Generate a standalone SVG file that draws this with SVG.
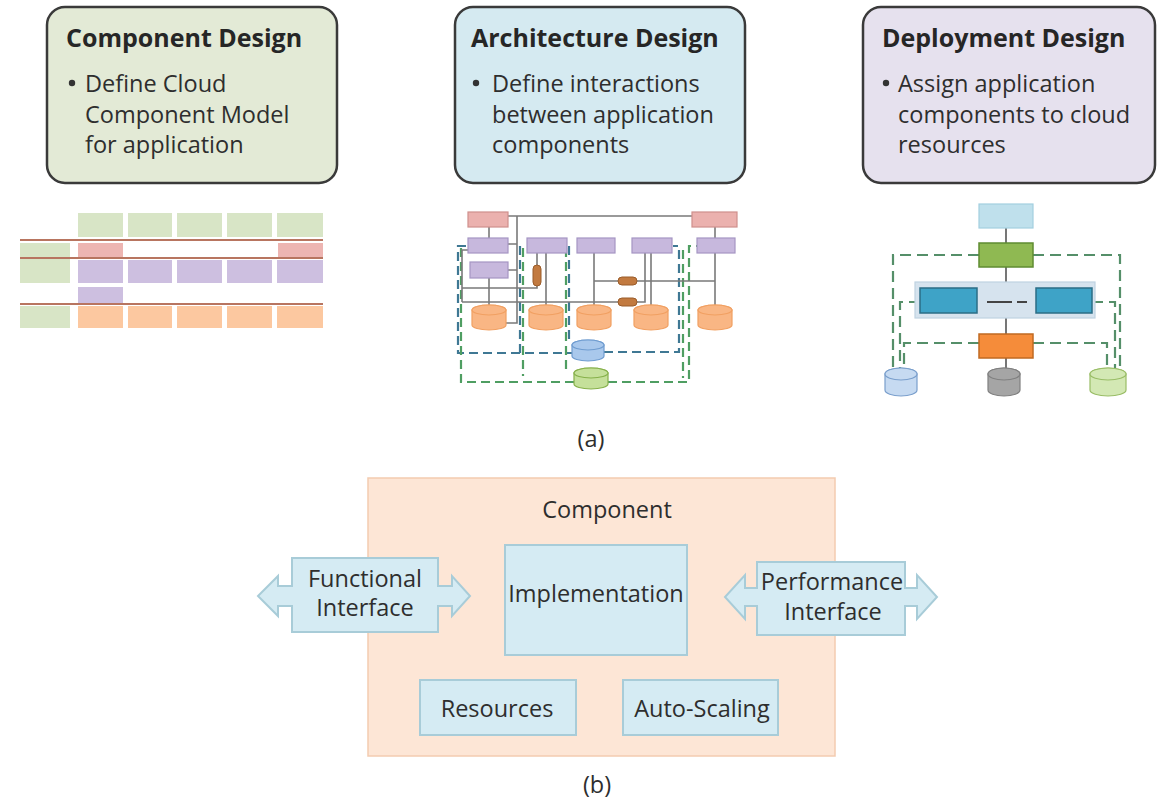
<svg xmlns="http://www.w3.org/2000/svg" width="1163" height="801" viewBox="0 0 1163 801">
<style>
.h{font-family:"Open Sans","Liberation Sans",sans-serif;font-weight:bold;font-size:25px;fill:#262626}
.t{font-family:"Open Sans","Liberation Sans",sans-serif;font-size:23.5px;fill:#2e2e2e}
.c{text-anchor:middle}
.card{stroke:#3a3a3a;stroke-width:2.5}
.g{fill:#d8e5c6}.pk{fill:#edb5b2}.pu{fill:#cdbfe0}.or{fill:#fcc8a0}
.rl{stroke:#b87560;stroke-width:1.8;fill:none}
.ln{stroke:#7a7a7a;stroke-width:1.6;fill:none}
.aP{fill:#ebb1ae;stroke:#cf8f8c;stroke-width:1.2}
.aU{fill:#c7b8dd;stroke:#a595c3;stroke-width:1.2}
.aO{fill:#f9b684;stroke:#f1a062;stroke-width:1.2}
.pill{fill:#c27a40;stroke:#9a5c2a;stroke-width:1}
.dT{stroke:#3f7894;stroke-width:2.2;stroke-dasharray:9 5;fill:none}
.dG{stroke:#4f9e62;stroke-width:2.2;stroke-dasharray:9 5;fill:none}
.dD{stroke:#558f69;stroke-width:2.2;stroke-dasharray:11 6;fill:none}
.dl{stroke:#555;stroke-width:1.6;fill:none}
.blu{fill:#d5ebf3;stroke:#a8ccd8;stroke-width:2}
</style>

<g id="component-design">
<rect x="47" y="7" width="290" height="176" rx="18" fill="#e3ead6" class="card"/>
<text class="h" x="66" y="47">Component Design</text>
<circle cx="72" cy="83" r="3.2" fill="#333"/>
<text class="t" x="85" y="92">Define Cloud</text>
<text class="t" x="85" y="123">Component Model</text>
<text class="t" x="85" y="153">for application</text>
</g>

<g id="architecture-design">
<rect x="455" y="7" width="290" height="176" rx="18" fill="#d5eaf1" class="card"/>
<text class="h" x="471" y="47">Architecture Design</text>
<circle cx="476" cy="83" r="3.2" fill="#333"/>
<text class="t" x="492" y="92">Define interactions</text>
<text class="t" x="492" y="123">between application</text>
<text class="t" x="492" y="153">components</text>
</g>

<g id="deployment-design">
<rect x="863" y="7" width="292" height="176" rx="18" fill="#e6e1ee" class="card"/>
<text class="h" x="882" y="47">Deployment Design</text>
<circle cx="886" cy="83" r="3.2" fill="#333"/>
<text class="t" x="898" y="92">Assign application</text>
<text class="t" x="898" y="123">components to cloud</text>
<text class="t" x="898" y="153">resources</text>
</g>

<g id="component-sketch">
<rect class="g" x="78" y="213" width="45" height="24"/>
<rect class="g" x="128" y="213" width="44" height="24"/>
<rect class="g" x="177" y="213" width="45" height="24"/>
<rect class="g" x="227" y="213" width="45" height="24"/>
<rect class="g" x="277" y="213" width="46" height="24"/>
<rect class="g" x="20" y="243" width="50" height="40"/>
<rect class="pk" x="78" y="243" width="45" height="15"/>
<rect class="pk" x="278" y="243" width="45" height="15"/>
<rect class="pu" x="78" y="260" width="45" height="23"/>
<rect class="pu" x="128" y="260" width="44" height="23"/>
<rect class="pu" x="177" y="260" width="45" height="23"/>
<rect class="pu" x="227" y="260" width="45" height="23"/>
<rect class="pu" x="277" y="260" width="46" height="23"/>
<rect class="pu" x="78" y="287" width="45" height="16"/>
<rect class="g" x="20" y="306" width="50" height="22"/>
<rect class="or" x="78" y="306" width="45" height="22"/>
<rect class="or" x="128" y="306" width="44" height="22"/>
<rect class="or" x="177" y="306" width="45" height="22"/>
<rect class="or" x="227" y="306" width="45" height="22"/>
<rect class="or" x="277" y="306" width="46" height="22"/>
<path class="rl" d="M20,240 H323 M20,258 H323 M20,304 H323"/>
</g>

<g id="architecture-sketch">
<path class="dT" d="M466,246 H458 V353 H572 M520,246 V353 M569,246 V342 M604,352 H679 V246 H673"/>
<path class="dG" d="M461,248 V382 H574 M608,382 H689 V246 H697 M523,248 V376 M566,248 V372 M683,250 V378"/>
<path class="ln" d="M508,216 H692 M517,216 V323 H506 M489,227 V238 M715,227 V238 M508,244 H517 M508,270 H517 M489,278 V305 M468,250 H462 V302 M537,253 V265 M537,286 V288 H462 M462,302 H618 M637,302 H645 V253 M546,253 V305 M594,253 V305 M594,281 H618 M637,281 H715 M651,253 V305 M715,253 V305"/>
<rect class="aP" x="468" y="212" width="40" height="15"/>
<rect class="aP" x="692" y="212" width="45" height="15"/>
<rect class="aU" x="468" y="238" width="40" height="15"/>
<rect class="aU" x="527" y="238" width="40" height="15"/>
<rect class="aU" x="577" y="238" width="38" height="15"/>
<rect class="aU" x="632" y="238" width="40" height="15"/>
<rect class="aU" x="697" y="238" width="38" height="15"/>
<rect class="aU" x="470" y="262" width="38" height="16"/>
<rect class="pill" x="533" y="265" width="8" height="21" rx="4"/>
<rect class="pill" x="618" y="277" width="19" height="8" rx="4"/>
<rect class="pill" x="618" y="298" width="19" height="8" rx="4"/>
<path class="aO" d="M472,310 V325 A17,5 0 0 0 506,325 V310 A17,5 0 0 0 472,310 Z"/><ellipse class="aO" cx="489" cy="310" rx="17" ry="5"/>
<path class="aO" d="M529,310 V325 A17,5 0 0 0 563,325 V310 A17,5 0 0 0 529,310 Z"/><ellipse class="aO" cx="546" cy="310" rx="17" ry="5"/>
<path class="aO" d="M577,310 V325 A17,5 0 0 0 611,325 V310 A17,5 0 0 0 577,310 Z"/><ellipse class="aO" cx="594" cy="310" rx="17" ry="5"/>
<path class="aO" d="M634,310 V325 A17,5 0 0 0 668,325 V310 A17,5 0 0 0 634,310 Z"/><ellipse class="aO" cx="651" cy="310" rx="17" ry="5"/>
<path class="aO" d="M698,310 V325 A17,5 0 0 0 732,325 V310 A17,5 0 0 0 698,310 Z"/><ellipse class="aO" cx="715" cy="310" rx="17" ry="5"/>
<path d="M572,345 V356 A16,5 0 0 0 604,356 V345 A16,5 0 0 0 572,345 Z" fill="#a9c8ec" stroke="#6f9cd0" stroke-width="1.2"/>
<ellipse cx="588" cy="345" rx="16" ry="5" fill="#a9c8ec" stroke="#6f9cd0" stroke-width="1.2"/>
<path d="M574,373 V384 A17,5 0 0 0 608,384 V373 A17,5 0 0 0 574,373 Z" fill="#c5e09a" stroke="#86b04a" stroke-width="1.2"/>
<ellipse cx="591" cy="373" rx="17" ry="5" fill="#c5e09a" stroke="#86b04a" stroke-width="1.2"/>
</g>

<g id="deployment-sketch">
<path class="dD" d="M979,255 H893 V368 M1033,255 H1120 V368 M920,302 H900 V368 M1092,302 H1115 V368 M979,343 H904 V368 M1033,343 H1107 V368"/>
<path class="dl" d="M1006,228 V243 M1006,267 V283 M1006,318 V334 M1006,358 V376"/>
<rect x="979" y="204" width="54" height="24" fill="#bfe0ec" stroke="#a3cfe0" stroke-width="1.2"/>
<rect x="979" y="243" width="54" height="24" fill="#8fb952" stroke="#5f8c32" stroke-width="1.5"/>
<rect x="915" y="282" width="180" height="36" fill="#d6e3ee" stroke="#bfd2e2" stroke-width="1.2"/>
<rect x="920" y="288" width="57" height="25" fill="#3ea3c7" stroke="#2b6e86" stroke-width="1.5"/>
<rect x="1036" y="288" width="56" height="25" fill="#3ea3c7" stroke="#2b6e86" stroke-width="1.5"/>
<path d="M987,302 H1012 M1017,302 H1027" stroke="#444" stroke-width="2.2"/>
<rect x="979" y="334" width="54" height="24" fill="#f58c3a" stroke="#c06a22" stroke-width="1.5"/>
<path d="M885,374 V390 A16,6 0 0 0 917,390 V374 A16,6 0 0 0 885,374 Z" fill="#c6daf1" stroke="#7a9fcc" stroke-width="1.2"/>
<ellipse cx="901" cy="374" rx="16" ry="6" fill="#c6daf1" stroke="#7a9fcc" stroke-width="1.2"/>
<path d="M988,374 V390 A16,6 0 0 0 1020,390 V374 A16,6 0 0 0 988,374 Z" fill="#a5a5a5" stroke="#808080" stroke-width="1.2"/>
<ellipse cx="1004" cy="374" rx="16" ry="6" fill="#a5a5a5" stroke="#808080" stroke-width="1.2"/>
<path d="M1090,374 V390 A18,6 0 0 0 1126,390 V374 A18,6 0 0 0 1090,374 Z" fill="#d3e8b4" stroke="#99bd66" stroke-width="1.2"/>
<ellipse cx="1108" cy="374" rx="18" ry="6" fill="#d3e8b4" stroke="#99bd66" stroke-width="1.2"/>
</g>

<text class="t c" x="591" y="447">(a)</text>

<g id="component">
<rect x="368" y="478" width="467" height="278" fill="#fde6d6" stroke="#f3cbb0" stroke-width="1.5"/>
<text class="t c" x="607" y="518">Component</text>
</g>
<g id="implementation">
<rect class="blu" x="505" y="545" width="182" height="110"/>
<text class="t c" x="596" y="602">Implementation</text>
</g>
<g id="resources">
<rect class="blu" x="420" y="680" width="156" height="55"/>
<text class="t c" x="497" y="717">Resources</text>
</g>
<g id="auto-scaling">
<rect class="blu" x="623" y="680" width="155" height="55"/>
<text class="t c" x="702" y="717">Auto-Scaling</text>
</g>
<g id="functional-interface">
<polygon class="blu" points="292,558 438,558 438,586 452,586 452,576 470,596 452,616 452,606 438,606 438,632 292,632 292,606 278,606 278,616 258,596 278,576 278,586 292,586"/>
<text class="t c" x="365" y="587">Functional</text>
<text class="t c" x="365" y="616">Interface</text>
</g>
<g id="performance-interface">
<polygon class="blu" points="757,562 905,562 905,588 917,588 917,575 937,597 917,619 917,606 905,606 905,635 757,635 757,606 745,606 745,619 725,597 745,575 745,588 757,588"/>
<text class="t c" x="832" y="590">Performance</text>
<text class="t c" x="833" y="620">Interface</text>
</g>

<text class="t c" x="597" y="793">(b)</text>
</svg>
